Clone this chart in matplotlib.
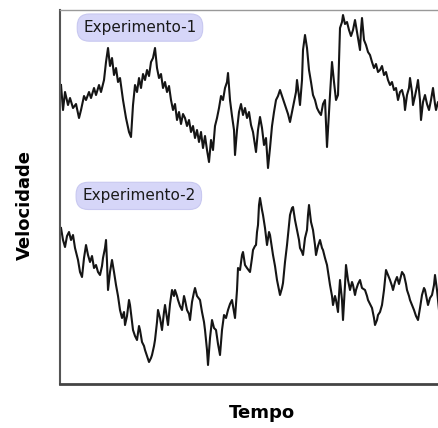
import matplotlib
matplotlib.use("Agg")
import matplotlib.pyplot as plt

# Experimento-1 (curva de cima): tempo e velocidade
tempo1 = [1, 3, 5, 8, 10, 13, 16, 19, 21, 24,
          26, 29, 31, 34, 36, 39, 41, 44, 46, 48,
          50, 52, 54, 56, 58, 60, 63, 66, 69, 71,
          73, 75, 77, 79, 81, 83, 85, 87, 89, 91,
          93, 95, 97, 99, 101, 103, 105, 107, 109, 111,
          113, 115, 117, 119, 121, 123, 125, 127, 129, 131,
          133, 135, 137, 139, 141, 143, 145, 147, 149, 151,
          153, 155, 157, 159, 161, 163, 165, 167, 168, 170,
          172, 174, 175, 177, 179, 181, 183, 185, 187, 189,
          191, 193, 195, 196, 198, 200, 202, 204, 206, 208,
          210, 212, 214, 216, 218, 220, 222, 224, 226, 228,
          230, 232, 234, 236, 237, 239, 240, 242, 243, 245,
          247, 249, 251, 253, 255, 257, 259, 261, 263, 265,
          267, 269, 270, 272, 274, 276, 278, 280, 282, 283,
          285, 287, 289, 291, 293, 295, 297, 298, 300, 301,
          302, 304, 306, 308, 310, 312, 314, 316, 318, 320,
          322, 324, 326, 328, 330, 332, 334, 336, 338, 340,
          342, 344, 345, 347, 349, 350, 352, 353, 355, 357,
          358, 360, 361, 363, 365, 367, 369, 371, 373, 375,
          376, 378, 379]
vel1 = [299, 274, 292, 279, 286, 276, 280, 266, 274, 288,
        284, 292, 286, 296, 289, 299, 292, 304, 322, 336,
        318, 326, 309, 316, 302, 306, 284, 266, 252, 247,
        279, 299, 292, 306, 296, 310, 304, 314, 308, 322,
        326, 336, 316, 306, 310, 296, 302, 292, 298, 284,
        274, 280, 264, 272, 260, 270, 266, 258, 264, 252,
        258, 246, 254, 242, 252, 236, 248, 234, 222, 244,
        234, 258, 266, 276, 288, 284, 296, 302, 311, 284,
        268, 254, 229, 254, 272, 280, 269, 276, 266, 272,
        259, 252, 239, 232, 254, 267, 256, 239, 246, 216,
        236, 258, 272, 284, 288, 294, 288, 282, 276, 270,
        262, 272, 282, 292, 304, 288, 279, 304, 334, 349,
        336, 314, 302, 289, 284, 276, 272, 269, 280, 284,
        237, 272, 289, 322, 302, 284, 289, 356, 362, 369,
        360, 362, 354, 348, 354, 364, 352, 346, 334, 354,
        366, 344, 339, 332, 329, 322, 316, 320, 312, 314,
        318, 309, 312, 304, 299, 302, 294, 296, 284, 292,
        294, 286, 274, 289, 296, 306, 292, 279, 288, 298,
        304, 284, 264, 282, 289, 280, 274, 284, 296, 280,
        274, 282, 279]

# Experimento-2 (curva de baixo)
tempo2 = [1, 3, 5, 7, 9, 11, 13, 15, 17, 18,
          20, 22, 24, 26, 28, 30, 32, 34, 36, 38,
          40, 42, 43, 45, 46, 47, 48, 50, 52, 54,
          56, 58, 60, 62, 64, 65, 67, 69, 70, 72,
          73, 75, 77, 79, 80, 82, 84, 85, 87, 89,
          91, 92, 94, 95, 97, 98, 100, 102, 104, 105,
          107, 108, 110, 112, 114, 115, 117, 118, 120, 122,
          124, 125, 127, 129, 130, 132, 134, 135, 137, 140,
          142, 144, 145, 147, 148, 150, 152, 154, 156, 158,
          160, 162, 164, 166, 168, 170, 172, 174, 175, 177,
          178, 180, 182, 183, 185, 187, 190, 192, 193, 195,
          196, 197, 198, 199, 200, 202, 203, 205, 207, 209,
          210, 212, 213, 215, 217, 219, 220, 222, 223, 225,
          227, 229, 230, 232, 233, 235, 237, 239, 240, 242,
          243, 245, 247, 248, 249, 251, 253, 255, 256, 258,
          260, 262, 263, 265, 267, 269, 270, 272, 273, 275,
          276, 278, 279, 280, 282, 283, 285, 286, 288, 290,
          292, 293, 295, 296, 298, 300, 302, 305, 307, 308,
          310, 312, 314, 315, 317, 318, 320, 322, 324, 326,
          328, 330, 332, 333, 335, 337, 339, 340, 342, 344,
          346, 347, 349, 350, 352, 354, 356, 358, 360, 362,
          364, 365, 367, 368, 370, 372, 374, 375, 377, 379]
vel2 = [156, 144, 137, 148, 152, 144, 149, 136, 128, 124,
        112, 107, 126, 139, 129, 122, 128, 116, 119, 112,
        109, 118, 126, 136, 144, 122, 94, 112, 124, 112,
        99, 88, 74, 66, 72, 59, 68, 84, 79, 62,
        54, 48, 44, 58, 54, 42, 38, 34, 28, 22,
        26, 29, 38, 44, 62, 74, 66, 54, 72, 79,
        66, 59, 80, 94, 88, 94, 88, 84, 78, 74,
        88, 84, 74, 70, 64, 82, 92, 96, 88, 84,
        72, 62, 54, 34, 19, 46, 64, 56, 54, 40,
        29, 54, 69, 66, 74, 80, 84, 72, 66, 94,
        116, 114, 129, 132, 119, 116, 112, 126, 134, 138,
        139, 152, 159, 179, 186, 174, 169, 156, 139, 152,
        149, 136, 129, 118, 104, 94, 89, 96, 101, 122,
        139, 159, 169, 176, 177, 164, 154, 144, 136, 132,
        129, 146, 154, 169, 179, 162, 154, 139, 129, 138,
        144, 136, 134, 126, 119, 106, 99, 88, 79, 88,
        84, 72, 89, 104, 84, 64, 99, 119, 104, 94,
        102, 99, 89, 94, 100, 104, 96, 94, 88, 84,
        80, 76, 66, 59, 64, 69, 72, 79, 94, 114,
        109, 104, 98, 94, 102, 107, 100, 104, 112, 109,
        100, 94, 88, 84, 79, 74, 68, 64, 76, 89,
        96, 94, 84, 79, 86, 89, 99, 109, 94, 74]

rotulos = ["Experimento-1", "Experimento-2"]

fig = plt.figure(figsize=(4.39, 4.28), dpi=100)
ax = fig.add_axes([0.1367, 0.1028, 0.8633, 0.8738])

ax.plot(tempo1, vel1, color="#151515", linewidth=1.5)
ax.plot(tempo2, vel2, color="#151515", linewidth=1.5)

ax.set_xlim(0, 379)
ax.set_ylim(0, 374)
ax.set_xticks([])
ax.set_yticks([])

ax.spines["right"].set_visible(False)
ax.spines["top"].set_color("#999999")
ax.spines["top"].set_linewidth(1.0)
ax.spines["left"].set_color("#555555")
ax.spines["left"].set_linewidth(1.5)
ax.spines["bottom"].set_color("#444444")
ax.spines["bottom"].set_linewidth(2.0)

# Caixinhas com o nome de cada experimento
caixa = dict(boxstyle="round,pad=0.4,rounding_size=0.8",
             facecolor="#d6d6f8", edgecolor="#c8c8f0", linewidth=0.8)
ax.text(0.211, 0.953, rotulos[0], transform=ax.transAxes, fontsize=11,
        ha="center", va="center", color="#1a1a1a", bbox=caixa)
ax.text(0.208, 0.503, rotulos[1], transform=ax.transAxes, fontsize=11,
        ha="center", va="center", color="#1a1a1a", bbox=caixa)

fig.text(262 / 439, 1 - 413 / 428, "Tempo", fontsize=13, fontweight="bold",
         ha="center", va="center")
fig.text(25 / 439, 1 - 205 / 428, "Velocidade", fontsize=13, fontweight="bold",
         rotation=90, ha="center", va="center")

fig.savefig("out.png", dpi=100)
